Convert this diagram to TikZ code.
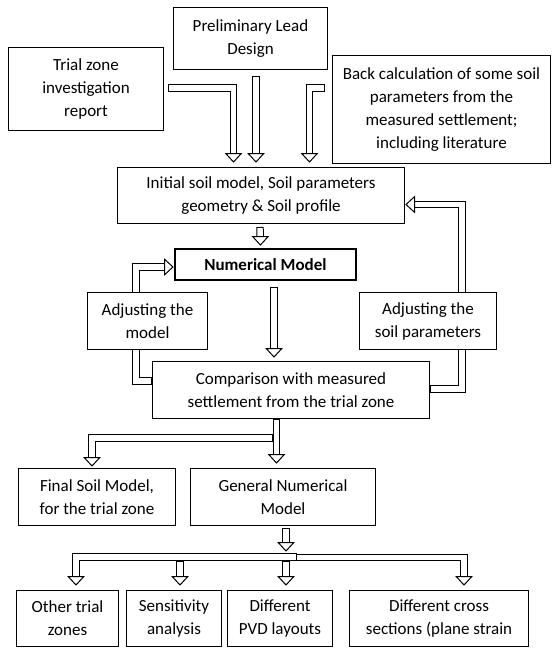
\documentclass[tikz,border=0pt]{standalone}
\usepackage{fontspec}
\setmainfont{Carlito}
\usetikzlibrary{calc,backgrounds}
\tikzset{
  box/.style={draw=black, fill=white, line width=1pt, anchor=north west, inner sep=0pt,
    align=center, font=\fontsize{17}{23}\selectfont},
  shaft/.style={draw=white, line width=5.4pt, line join=miter, shorten <=1pt, shorten >=#1,
    preaction={draw=black, line width=7.4pt, line join=miter, shorten <=0pt, shorten >=#1}},
  shaft/.default=5pt,
  headst/.style={draw=black, fill=white, line width=1pt, line join=miter},
}
\newcommand\ahead[2]{\draw[headst, shift={(#2)}, rotate=#1] (0,0) -- (-8.5,7.8) -- (-8.5,-7.8) -- cycle;}
\begin{document}
\begin{tikzpicture}[x=1pt, y=-1pt]
\useasboundingbox (0,0) rectangle (552,648);
% boxes
\node[box, minimum width=154, minimum height=62] (prelim) at (173,7) {Preliminary Lead\\Design};
\node[box, minimum width=155, minimum height=83] (trial) at (8,47) {Trial zone\\investigation\\report};
\node[box, minimum width=218, minimum height=108] (back) at (332,55) {Back calculation of some soil\\parameters from the\\measured settlement;\\including literature};
\node[box, minimum width=287, minimum height=56] (init) at (117,167) {Initial soil model, Soil parameters\\geometry \& Soil profile};
\node[box, line width=1.8pt, minimum width=181, minimum height=31, font=\fontsize{17}{23}\selectfont\bfseries] (num) at (174,248) {Numerical Model};
\node[box, minimum width=120, minimum height=57] (adjm) at (87,292) {Adjusting the\\model};
\node[box, minimum width=137, minimum height=57] (adjs) at (359,292) {Adjusting the\\soil parameters};
\node[box, minimum width=277, minimum height=57] (comp) at (152,361) {Comparison with measured\\settlement from the trial zone};
\node[box, minimum width=157, minimum height=57] (final) at (18,468) {Final Soil Model,\\for the trial zone};
\node[box, minimum width=185, minimum height=57] (gen) at (190,468) {General Numerical\\Model};
\node[box, minimum width=102, minimum height=56] (other) at (16,590) {Other trial\\zones};
\node[box, minimum width=95, minimum height=56] (sens) at (126,590) {Sensitivity\\analysis};
\node[box, minimum width=105, minimum height=56] (pvd) at (227,590) {Different\\PVD layouts};
\node[box, minimum width=179, minimum height=56] (cross) at (349,590) {Different cross\\sections (plane strain};

\begin{pgfonlayer}{background}
% top three inputs
\coordinate (c1) at (233.5,88);
\coordinate (h1) at ($(c1 |- init.north)+(0,-5)$);
\draw[shaft] ($(trial.east |- c1)+(4,0)$) -| (h1);
\ahead{-90}{h1}
\coordinate (c2) at (256,75);
\coordinate (h2) at ($(c2 |- init.north)+(0,-5)$);
\draw[shaft] ($(c2 |- prelim.south)+(0,6)$) -- (h2);
\ahead{-90}{h2}
\coordinate (c3) at (309.5,88);
\coordinate (h3) at ($(c3 |- init.north)+(0,-5)$);
\draw[shaft] ($(back.west |- c3)+(-7,0)$) -| (h3);
\ahead{-90}{h3}
% init -> numerical
\coordinate (h4) at ($(num.north)+(-5,-3)$);
\draw[shaft] ($(init.south)+(-1,3)$) -- (h4);
\ahead{-90}{h4}
% numerical -> comparison
\coordinate (c5) at (274,287);
\coordinate (h5) at ($(c5 |- comp.north)+(0,-4)$);
\draw[shaft] (c5) -- (h5);
\ahead{-90}{h5}
% left loop
\coordinate (c6) at (136,267);
\coordinate (h6) at ($(num.west |- c6)+(-1,0)$);
\draw[shaft] (comp.west |- 0,381) -| (c6) -- (h6);
\ahead{0}{h6}
% right loop
\coordinate (c7) at (462,204.5);
\coordinate (h7) at ($(init.east |- c7)+(1,0)$);
\draw[shaft] (comp.east |- 0,389) -| (c7) -- (h7);
\ahead{180}{h7}
% comparison -> final / general
\coordinate (c9) at (92,438);
\coordinate (h9) at ($(c9 |- final.north)+(0,-2)$);
\draw[shaft] (273,438) -| (h9);
\ahead{-90}{h9}
\coordinate (c8) at (276.5,419);
\coordinate (h8) at ($(c8 |- gen.north)+(0,-5)$);
\draw[shaft] (c8) -- (h8);
\ahead{-90}{h8}
% general -> distribution
\coordinate (c10) at (286,527);
\coordinate (h10) at (286,551);
\draw[shaft] ($(c10 |- gen.south)+(0,2)$) -- (h10);
\ahead{-90}{h10}
\coordinate (hc) at ($(464,0 |- cross.north)+(0,-5)$);
\coordinate (ho) at ($(76,0 |- other.north)+(0,-5)$);
\draw[shaft] (280,557.5) -| (hc);
\ahead{-90}{hc}
\draw[shaft] (297,557) -| (ho);
\ahead{-90}{ho}
\coordinate (hs) at ($(180,0 |- sens.north)+(0,-5)$);
\draw[shaft] (180,560.6) -- (hs);
\ahead{-90}{hs}
\coordinate (hp) at ($(286,0 |- pvd.north)+(0,-5)$);
\draw[shaft] (286,560.6) -- (hp);
\ahead{-90}{hp}
\end{pgfonlayer}
\end{tikzpicture}
\end{document}
